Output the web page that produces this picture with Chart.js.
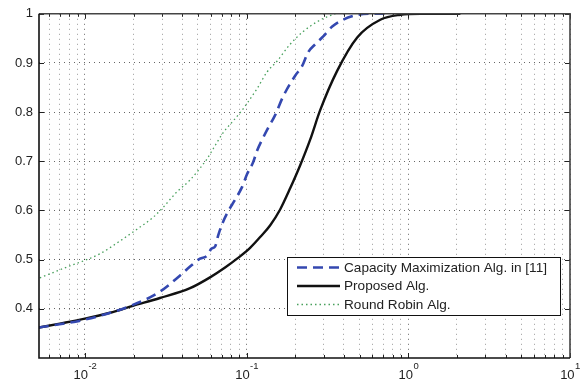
<!DOCTYPE html>
<html>
<head>
<meta charset="utf-8">
<style>
  html, body { margin: 0; padding: 0; background: #fff; }
</style>
<script src="https://cdn.jsdelivr.net/npm/chart.js@4.4.1/dist/chart.umd.min.js"></script>
</head>
<body>
<canvas id="chart" width="587" height="381"></canvas>
<script>
// values (x is log scale)
const capX  = [0.00519, 0.01, 0.0198, 0.0291, 0.0388, 0.0447, 0.0515, 0.0569, 0.0605, 0.0639, 0.0668, 0.0705, 0.0768, 0.0849, 0.0938, 0.1007, 0.1097, 0.1162, 0.1265, 0.1359, 0.1501, 0.1683, 0.1996, 0.2207, 0.2403, 0.2656, 0.2977, 0.3383, 0.3958, 0.490, 0.5815, 0.774];
const capY  = [0.362, 0.378, 0.408, 0.435, 0.468, 0.486, 0.502, 0.508, 0.522, 0.527, 0.55, 0.572, 0.598, 0.622, 0.648, 0.674, 0.698, 0.722, 0.748, 0.768, 0.794, 0.832, 0.874, 0.894, 0.922, 0.938, 0.954, 0.974, 0.988, 0.998, 1.0, 1.0];

const propX = [0.00519, 0.0070, 0.01, 0.0143, 0.0198, 0.0291, 0.0447, 0.0594, 0.0736, 0.0873, 0.1051, 0.1213, 0.140, 0.1612, 0.1859, 0.2145, 0.2472, 0.2851, 0.363, 0.483, 0.671, 0.892, 1.19, 2.10];
const propY = [0.362, 0.37, 0.38, 0.392, 0.406, 0.422, 0.442, 0.464, 0.484, 0.502, 0.524, 0.546, 0.570, 0.602, 0.645, 0.692, 0.744, 0.804, 0.884, 0.952, 0.988, 0.998, 1.0, 1.0];

const rrX   = [0.00526, 0.00774, 0.01239, 0.01647, 0.0210, 0.0264, 0.0304, 0.0371, 0.0447, 0.0515, 0.0569, 0.0620, 0.0715, 0.0825, 0.0938, 0.1007, 0.1162, 0.1340, 0.1545, 0.1858, 0.2239, 0.2733, 0.3151, 0.3535];
const rrY   = [0.463, 0.485, 0.512, 0.538, 0.562, 0.586, 0.606, 0.638, 0.662, 0.686, 0.705, 0.725, 0.758, 0.782, 0.804, 0.818, 0.848, 0.882, 0.904, 0.938, 0.964, 0.984, 0.994, 1.0];

const seriesNames = ['Capacity Maximization Alg. in [11]', 'Proposed Alg.', 'Round Robin Alg.'];

const xTicks = [0.01, 0.1, 1, 10];
const xTickExps = ['-2', '-1', '0', '1'];
const yTicks = [0.4, 0.5, 0.6, 0.7, 0.8, 0.9, 1];

const FONT = '"Liberation Sans", Arial, sans-serif';

function pts(xs, ys) {
  return xs.map((x, i) => ({ x: x, y: ys[i] }));
}

// all 1..9 x 10^e positions for grid lines
function logGrid(min, max) {
  let out = [];
  for (let e = -3; e <= 1; e++) {
    for (let k = 1; k <= 9; k++) {
      const v = k * Math.pow(10, e);
      if (v >= min && v <= max) out.push({ value: v, major: k === 1 });
    }
  }
  return out;
}

const framePlugin = {
  id: 'frame',
  afterDraw(chart) {
    const ctx = chart.ctx, a = chart.chartArea;
    const xs = chart.scales.x, ys = chart.scales.y;
    ctx.save();
    // inner tick marks
    ctx.strokeStyle = '#222';
    ctx.lineWidth = 1;
    ctx.beginPath();
    xs.ticks.forEach(t => {
      const px = Math.round(xs.getPixelForValue(t.value)) + 0.5;
      const len = t.major ? 5 : 3;
      ctx.moveTo(px, a.bottom); ctx.lineTo(px, a.bottom - len);
      ctx.moveTo(px, a.top); ctx.lineTo(px, a.top + len);
    });
    yTicks.forEach(v => {
      const py = Math.round(ys.getPixelForValue(v)) + 0.5;
      ctx.moveTo(a.left, py); ctx.lineTo(a.left + 5, py);
      ctx.moveTo(a.right, py); ctx.lineTo(a.right - 5, py);
    });
    ctx.stroke();
    // axes box
    ctx.lineWidth = 1.6;
    ctx.strokeStyle = '#444';
    ctx.beginPath();
    ctx.moveTo(a.left, a.top); ctx.lineTo(a.right, a.top); ctx.lineTo(a.right, a.bottom);
    ctx.stroke();
    ctx.strokeStyle = '#111';
    ctx.beginPath();
    ctx.moveTo(a.left, a.top); ctx.lineTo(a.left, a.bottom); ctx.lineTo(a.right, a.bottom);
    ctx.stroke();

    // x tick labels 10^n
    ctx.fillStyle = '#222';
    ctx.textBaseline = 'alphabetic';
    ctx.textAlign = 'left';
    xTicks.forEach((v, i) => {
      const px = xs.getPixelForValue(v);
      ctx.font = '13px ' + FONT;
      const w1 = ctx.measureText('10').width;
      ctx.font = '9.5px ' + FONT;
      const w2 = ctx.measureText(xTickExps[i]).width;
      const x0 = px - (w1 + w2) / 2;
      ctx.font = '13px ' + FONT;
      ctx.fillText('10', x0, a.bottom + 21);
      ctx.font = '9.5px ' + FONT;
      ctx.fillText(xTickExps[i], x0 + w1 + 0.5, a.bottom + 11);
    });
    ctx.restore();
  }
};

const legendPlugin = {
  id: 'boxLegend',
  afterDraw(chart) {
    const ctx = chart.ctx;
    const bx = 287, by = 257, bw = 273, bh = 58;
    ctx.save();
    ctx.fillStyle = '#fff';
    ctx.fillRect(bx, by, bw, bh);
    ctx.strokeStyle = '#111';
    ctx.lineWidth = 1;
    ctx.strokeRect(bx + 0.5, by + 0.5, bw, bh);
    chart.data.datasets.forEach((ds, i) => {
      const yy = by + 10.5 + i * 18.5;
      ctx.strokeStyle = ds.borderColor;
      ctx.lineWidth = ds.borderWidth;
      ctx.setLineDash(ds.borderDash || []);
      ctx.beginPath();
      ctx.moveTo(bx + 10, yy);
      ctx.lineTo(bx + 53, yy);
      ctx.stroke();
      ctx.setLineDash([]);
      ctx.fillStyle = '#222';
      ctx.font = '13.6px ' + FONT;
      ctx.textBaseline = 'middle';
      ctx.fillText(ds.label, bx + 57, yy + 0.5);
    });
    ctx.restore();
  }
};

const chart = new Chart(document.getElementById('chart'), {
  type: 'line',
  data: {
    datasets: [
      { label: seriesNames[0], data: pts(capX, capY), borderColor: '#3448b0', borderWidth: 2.6, borderDash: [10, 6], pointRadius: 0, cubicInterpolationMode: 'monotone', fill: false },
      { label: seriesNames[1], data: pts(propX, propY), borderColor: '#111111', borderWidth: 2.4, pointRadius: 0, cubicInterpolationMode: 'monotone', fill: false },
      { label: seriesNames[2], data: pts(rrX, rrY), borderColor: '#48a05c', borderWidth: 1.3, borderDash: [1.5, 3], pointRadius: 0, cubicInterpolationMode: 'monotone', fill: false }
    ]
  },
  options: {
    responsive: false,
    animation: false,
    layout: { padding: { top: 9, right: 17, left: 0, bottom: 0 } },
    plugins: { legend: { display: false }, tooltip: { enabled: false } },
    scales: {
      x: {
        type: 'logarithmic',
        min: 0.0052,
        max: 10,
        afterBuildTicks: s => { s.ticks = logGrid(0.0052, 10); },
        afterFit: s => { s.height = 23; },
        ticks: { display: false },
        grid: {
          drawTicks: false,
          color: c => (c.tick && c.tick.major) ? 'rgba(0,0,0,0.6)' : 'rgba(0,0,0,0.4)',
          lineWidth: 1
        },
        border: { display: false, dash: [1, 4] }
      },
      y: {
        type: 'linear',
        min: 0.3,
        max: 1,
        afterBuildTicks: s => { s.ticks = yTicks.map(v => ({ value: v })); },
        afterFit: s => { s.width = 39; },
        ticks: {
          padding: 6,
          color: '#222',
          font: { family: FONT, size: 13 },
          callback: v => String(Math.round(v * 10) / 10)
        },
        grid: { drawTicks: false, color: 'rgba(0,0,0,0.6)', lineWidth: 1 },
        border: { display: false, dash: [1, 4] }
      }
    }
  },
  plugins: [framePlugin, legendPlugin]
});
</script>
</body>
</html>
